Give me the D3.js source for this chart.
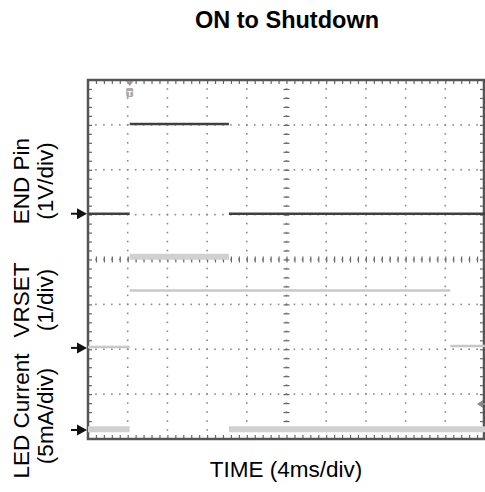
<!DOCTYPE html>
<html>
<head>
<meta charset="utf-8">
<script src="https://cdn.jsdelivr.net/npm/d3@7"></script>
<style>
  body { margin: 0; background: #fff; }
  svg { display: block; font-family: "Liberation Sans", Arial, sans-serif; }
</style>
</head>
<body>
<svg id="chart" width="485" height="492"></svg>
<script>
// scope settings: 10 x 8 divisions, 4ms/div
var timeDivs = 10;
var ampDivs = 8;
var msPerDiv = 4;

// channels: ground marker (divisions from bottom), scale per div, steps
var channels = [
  {name: 'END Pin', unit: '(1V/div)', ground: 5.02, perDiv: 1,
   t: [0, 4.2, 14.2, 40], v: [0, 2.0, 0, 0]},
  {name: 'VRSET', unit: '(1/div)', ground: 2.03, perDiv: 1,
   t: [0, 4.2, 36.5, 40], v: [0.02, 1.28, 0.04, 0.04]},
  {name: 'LED Current', unit: '(5mA/div)', ground: 0.2, perDiv: 5,
   t: [0, 4.2, 14.2, 40], v: [0.1, 19.3, 0.1, 0.1]}
];

var triggerTime = 4.2;
var triggerLevelDiv = 0.78;

var svg = d3.select('#chart');
var plot = {left: 88, top: 80, right: 485, bottom: 439};

var x = d3.scaleLinear().domain([0, timeDivs * msPerDiv]).range([plot.left, plot.right]);
var y = d3.scaleLinear().domain([0, ampDivs]).range([plot.bottom, plot.top]);

// title and axis label
svg.append('text')
    .attr('x', 287).attr('y', 28)
    .attr('text-anchor', 'middle')
    .style('font-size', '23.5px').style('font-weight', 'bold')
    .text('ON to Shutdown');

svg.append('text')
    .attr('x', 286).attr('y', 477)
    .attr('text-anchor', 'middle')
    .style('font-size', '22.5px')
    .text('TIME (4ms/div)');

// grid: dotted lines every division, dots at the minor (1/5) steps
var g = svg.append('g');
var minorX = d3.range(0, timeDivs * 5 + 1).map(function(i) { return i * msPerDiv / 5; });
var minorY = d3.range(0, ampDivs * 5 + 1).map(function(i) { return i / 5; });

d3.range(1, timeDivs).forEach(function(k) {
    g.selectAll(null).data(minorY).enter().append('rect')
        .attr('x', x(k * msPerDiv) - 0.8).attr('y', function(d) { return y(d) - 0.8; })
        .attr('width', 1.6).attr('height', 1.6)
        .attr('fill', '#8a8a8a');
});
d3.range(1, ampDivs).forEach(function(k) {
    g.selectAll(null).data(minorX).enter().append('rect')
        .attr('x', function(d) { return x(d) - 0.8; }).attr('y', y(k) - 0.8)
        .attr('width', 1.6).attr('height', 1.6)
        .attr('fill', '#8a8a8a');
});

// tick marks on the centre cross and on the border, drawn with d3 axes
function ticks(axis, tx, ty, vals, size) {
    var a = svg.append('g')
        .attr('transform', 'translate(' + tx + ',' + ty + ')')
        .call(axis.tickValues(vals).tickSize(size).tickFormat(''));
    a.select('.domain').remove();
    a.selectAll('line').attr('stroke', '#666').attr('stroke-width', 1.2);
    return a;
}
var innerX = minorX.slice(1, -1);
var innerY = minorY.slice(1, -1);
ticks(d3.axisBottom(x), 0, y(4) - 3, innerX, 6);
ticks(d3.axisRight(y), x(20) - 3, 0, innerY, 6);
ticks(d3.axisBottom(x), 0, plot.top, innerX, 4);
ticks(d3.axisTop(x), 0, plot.bottom, innerX, 4);
ticks(d3.axisRight(y), plot.left, 0, innerY, 4);
ticks(d3.axisLeft(y), plot.right - 1, 0, innerY, 4);

// border
svg.append('rect')
    .attr('x', plot.left).attr('y', plot.top)
    .attr('width', plot.right - plot.left - 1).attr('height', plot.bottom - plot.top)
    .attr('fill', 'none').attr('stroke', '#555').attr('stroke-width', 2.5);

// traces: horizontal segments only, edges too fast to show
var traceStyle = [
    {color: '#404040', width: 2.5},
    {color: '#c8c8c8', width: 2.5},
    {color: '#d0d0d0', width: 6}
];
channels.forEach(function(ch, ci) {
    var st = traceStyle[ci];
    var segs = ch.t.slice(0, -1).map(function(t0, i) {
        return {t0: t0, t1: ch.t[i + 1], v: ch.v[i]};
    });
    svg.append('g').selectAll('line').data(segs).enter().append('line')
        .attr('x1', function(d) { return x(d.t0); })
        .attr('x2', function(d) { return x(d.t1); })
        .attr('y1', function(d) { return y(ch.ground + d.v / ch.perDiv); })
        .attr('y2', function(d) { return y(ch.ground + d.v / ch.perDiv); })
        .attr('stroke', st.color)
        .attr('stroke-width', st.width);

    // ground marker arrow
    var gy = y(ch.ground);
    svg.append('path')
        .attr('d', 'M71,' + gy + 'H79')
        .attr('stroke', '#111').attr('stroke-width', 2);
    svg.append('path')
        .attr('d', 'M77,' + (gy - 5.5) + 'L87,' + gy + 'L77,' + (gy + 5.5) + 'Z')
        .attr('fill', '#111');

    // channel labels, rotated
    var mid = [181, 300, 416][ci];
    var lab = svg.append('g').attr('transform', 'translate(0,' + mid + ')');
    lab.append('text')
        .attr('transform', 'translate(29,0) rotate(-90)')
        .attr('text-anchor', 'middle')
        .style('font-size', '22.5px')
        .text(ch.name);
    lab.append('text')
        .attr('transform', 'translate(53,0) rotate(-90)')
        .attr('text-anchor', 'middle')
        .style('font-size', '22.5px')
        .text(ch.unit);
});

// trigger position marker at the top
var tx = x(triggerTime);
svg.append('path')
    .attr('d', 'M' + (tx - 4) + ',81L' + (tx + 4) + ',81L' + tx + ',86Z')
    .attr('fill', '#999');
svg.append('rect')
    .attr('x', tx - 3.5).attr('y', 88).attr('width', 7).attr('height', 9)
    .attr('rx', 1.5).attr('fill', '#aaa');
svg.append('text')
    .attr('x', tx).attr('y', 96)
    .attr('text-anchor', 'middle')
    .style('font-size', '8px').style('font-weight', 'bold')
    .attr('fill', '#fff')
    .text('T');

// trigger level marker at the right edge
var ly = y(triggerLevelDiv);
svg.append('path')
    .attr('d', 'M477,' + ly + 'L483,' + (ly - 4) + 'L483,' + (ly + 4) + 'Z')
    .attr('fill', '#888');
svg.append('path')
    .attr('d', 'M482,' + ly + 'H485')
    .attr('stroke', '#888').attr('stroke-width', 2);
</script>
</body>
</html>
